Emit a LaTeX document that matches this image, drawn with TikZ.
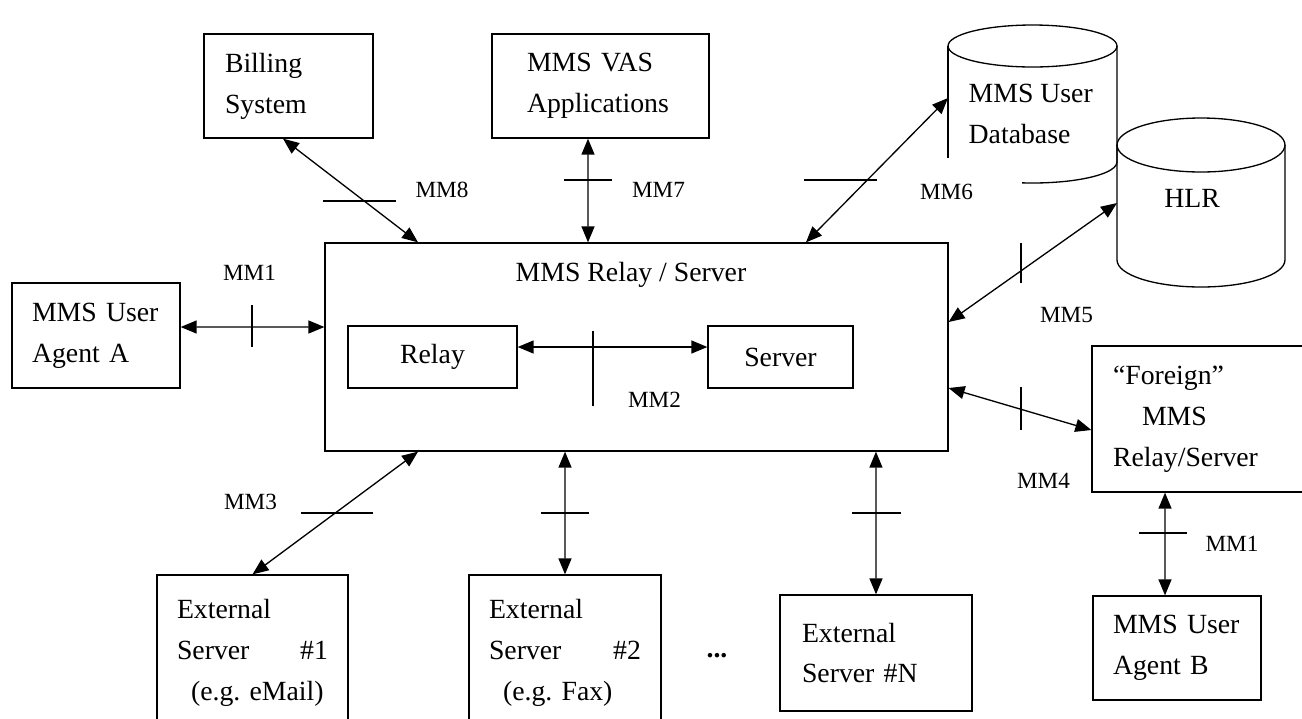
\documentclass[tikz,border=0pt]{standalone}
\usepackage{fontspec}
\setmainfont{Liberation Serif}
\usetikzlibrary{arrows.meta}
\newcommand{\cuerpo}{\fontsize{15.8}{23.3}\selectfont}
\newcommand{\etiq}{\fontsize{13.2}{16}\selectfont}

\begin{document}
\begin{tikzpicture}[x=0.02cm, y=-0.02cm, line width=0.75pt,
  caja/.style={draw, rectangle, align=left, font=\cuerpo, inner ysep=0pt},
  txt/.style={font=\cuerpo, inner sep=0pt},
  mm/.style={font=\etiq, inner sep=0pt},
  enlace/.style={{Triangle[length=0.32cm,width=0.26cm]}-{Triangle[length=0.32cm,width=0.26cm]}}]
  \useasboundingbox (0,0) rectangle (1302,718);
  \clip (0,0) rectangle (1302,718);

  % Cajas
  \node[caja, minimum width=3.38cm, minimum height=2.08cm, inner xsep=0.42cm, text width=2.54cm]
    (billing) at (288.5,86) {Billing\\System};
  \node[caja, minimum width=4.34cm, minimum height=2.08cm, inner xsep=0.7cm, text width=2.94cm]
    (vas) at (600.5,86) {MMS VAS\\Applications};
  \node[caja, minimum width=3.36cm, minimum height=2.1cm, inner xsep=0.4cm, text width=2.56cm]
    (uaa) at (96,335.5) {MMS User\\Agent A};
  \node[caja, minimum width=12.46cm, minimum height=4.16cm] (relsrv) at (636.5,347) {};
  \node[txt] (relsrvtit) at (631,275) {MMS Relay / Server};
  \node[caja, minimum width=3.38cm, minimum height=1.24cm] (relay) at (432.5,357) {Relay};
  \node[caja, minimum width=2.9cm, minimum height=1.24cm] (server) at (780.5,357) {Server};
  \node[caja, minimum width=4.96cm, minimum height=2.92cm, inner xsep=0.42cm, text width=4.12cm]
    (foreign) at (1216,419) {“Foreign”\\\hspace*{0.58cm}MMS\\Relay/Server};
  \node[caja, minimum width=3.36cm, minimum height=2.08cm, inner xsep=0.4cm, text width=2.56cm]
    (uab) at (1177,648) {MMS User\\Agent B};
  \node[caja, minimum width=3.82cm, minimum height=3.12cm, inner xsep=0.4cm, text width=3.02cm]
    (extuno) at (252.5,653) {External\\Server\hfill\#1\\\hspace*{0.28cm}\mbox{(e.g.\ eMail)}};
  \node[caja, minimum width=3.84cm, minimum height=3.12cm, inner xsep=0.4cm, text width=3.04cm]
    (extdos) at (565,653) {External\\Server\hfill\#2\\\hspace*{0.28cm}\mbox{(e.g.\ Fax)}};
  \node[caja, minimum width=3.84cm, minimum height=2.32cm, inner xsep=0.44cm, text width=2.96cm]
    (extn) at (876,653) {External\\Server \#N};
  \node[txt, font=\cuerpo\bfseries] (puntos) at (717,656) {...};

  % Base de datos
  \draw (948,46) -- (948,158);
  \draw (1117,46) -- (1117,162) arc[start angle=0, end angle=-97, x radius=1.69cm, y radius=0.42cm];
  \draw (1032.5,46) ellipse [x radius=1.69cm, y radius=0.42cm];
  \node[txt, align=left, anchor=west] (userdb) at (968,114) {MMS User\\Database};
  \coordinate (userdbside) at (948,98);

  % HLR
  \draw (1117,145) -- (1117,260) arc[start angle=180, end angle=360, x radius=1.68cm, y radius=0.54cm] -- (1285,145);
  \draw (1201,145) ellipse [x radius=1.68cm, y radius=0.54cm];
  \node[txt] (hlr) at (1192,198) {HLR};
  \coordinate (hlrside) at (1117,203);

  % Enlaces
  \draw[enlace] ([xshift=-0.11cm]billing.south) -- ([xshift=-4.37cm]relsrv.north);
  \draw[enlace] ([xshift=-0.25cm]vas.south) -- ([xshift=-0.97cm]relsrv.north);
  \draw[enlace] ([xshift=3.39cm]relsrv.north) -- (userdbside);
  \draw[enlace] ([yshift=0.5cm]relsrv.east) -- (hlrside);
  \draw[enlace] ([yshift=-0.82cm]relsrv.east) -- ([yshift=-0.22cm]foreign.west);
  \draw[enlace] ([yshift=0.17cm]uaa.east) -- ([yshift=0.4cm]relsrv.west);
  \draw[enlace] ([yshift=0.2cm]relay.east) -- ([yshift=0.2cm]server.west);
  \draw[enlace] (extuno.north) -- ([xshift=-4.37cm]relsrv.south);
  \draw[enlace] (extdos.north) -- ([xshift=-1.43cm]relsrv.south);
  \draw[enlace] (extn.north) -- ([xshift=4.79cm]relsrv.south);
  \draw[enlace] ([xshift=-1.02cm]foreign.south) -- ([xshift=-0.24cm]uab.north);

  % Marcas
  \foreach \x/\y/\l in {323/201/73, 564/180/48, 804/180/73, 301/513/72,
                        541/513/48, 852/513/49, 1139/533/48}
    \draw (\x,\y) -- ++(\l,0);
  \foreach \x/\y/\l in {1021/243/40, 1021/387/43, 252/305/42, 593/331/75}
    \draw (\x,\y) -- ++(0,\l);

  % Etiquetas
  \node[mm] (lmm8) at (442,190) {MM8};
  \node[mm] (lmm7) at (658.5,190) {MM7};
  \node[mm] (lmm6) at (946.5,192) {MM6};
  \node[mm] (lmm5) at (1066.5,315) {MM5};
  \node[mm] (lmm4) at (1043.5,481) {MM4};
  \node[mm] (lmm1a) at (249.5,273) {MM1};
  \node[mm] (lmm2) at (654.5,400) {MM2};
  \node[mm] (lmm3) at (250.5,502) {MM3};
  \node[mm] (lmm1b) at (1232,544) {MM1};
\end{tikzpicture}
\end{document}
